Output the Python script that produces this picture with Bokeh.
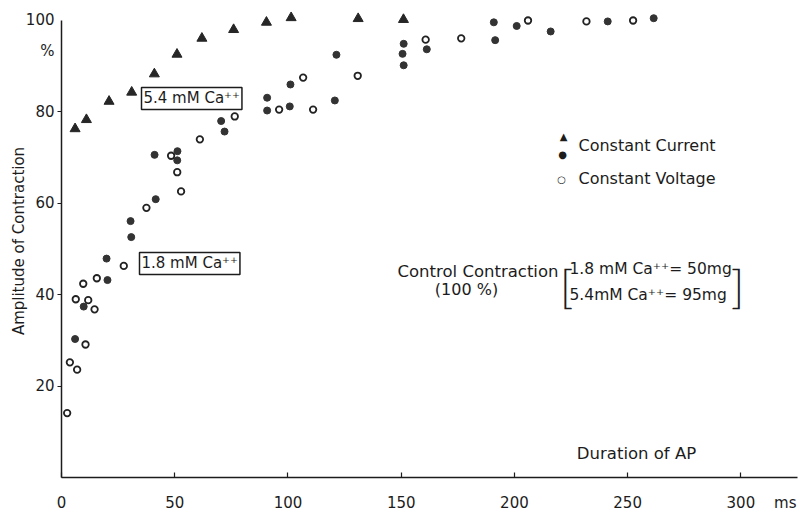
from bokeh.plotting import figure
from bokeh.models import Label, FixedTicker, Range1d, LinearAxis
from bokeh.embed import file_html
from bokeh.resources import INLINE

# ---- data ----
# Constant current, triangles (5.4 mM Ca++)
tri_x = [6, 11, 21, 31, 41, 51, 62, 76, 90.5, 101.4, 131, 151]
tri_y = [76.3, 78.3, 82.3, 84.3, 88.3, 92.6, 96.1, 98.0, 99.6, 100.6, 100.4, 100.2]

# Constant current, filled circles
dot_x = [6.0, 9.8, 19.9, 20.3, 30.5, 30.8, 41.6, 41.1, 51.2, 51.1, 70.5, 72.0,
         90.8, 90.8, 100.8, 101.1, 120.7, 121.4, 151.1, 150.6, 151.1, 161.3,
         190.9, 191.5, 201.0, 216.0, 241.2, 261.5]
dot_y = [30.3, 37.4, 47.9, 43.2, 56.1, 52.6, 60.9, 70.6, 71.4, 69.4, 78.0, 75.7,
         83.1, 80.3, 81.2, 86.0, 82.5, 92.5, 94.9, 92.7, 90.2, 93.7,
         99.6, 95.7, 98.8, 97.6, 99.8, 100.5]

# Constant voltage, open circles
cv_x = [2.5, 3.7, 6.9, 6.3, 9.6, 11.8, 14.6, 10.6, 15.6, 27.5, 37.5, 52.8, 48.4,
        51.1, 61.1, 76.5, 96.1, 106.7, 111.1, 130.8, 160.8, 176.5, 206.0, 231.8, 252.4]
cv_y = [14.1, 25.2, 23.6, 39.0, 42.4, 38.8, 36.8, 29.1, 43.6, 46.3, 59.0, 62.6, 70.4,
        66.8, 74.0, 79.0, 80.5, 87.5, 80.5, 87.9, 95.8, 96.1, 100.0, 99.8, 100.0]

x_ticks = [0, 50, 100, 150, 200, 250, 300]
x_unit_pos = 319.6          # where the "ms" unit label sits on the x scale
y_ticks = [20, 40, 60, 80]
y_top = 100
y_pct_pos = 93.4            # where the "%" sign sits under "100"

INK = "#1c1c1c"
FONT = "DejaVu Sans"

p = figure(width=804, height=517, output_backend="svg", toolbar_location=None,
           x_range=Range1d(0, 325), y_range=Range1d(0, 103.5),
           x_axis_location=None, y_axis_location=None,
           min_border_left=61, min_border_right=7, min_border_top=4, min_border_bottom=40)
p.outline_line_color = None
p.grid.visible = False
p.background_fill_color = "white"
p.border_fill_color = "white"

# x axis: line + inward ticks
xa = LinearAxis(ticker=FixedTicker(ticks=x_ticks), bounds=(0, 325),
                axis_line_color=INK, axis_line_width=1.5,
                major_tick_line_color=INK, major_tick_line_width=1.2,
                major_tick_in=5, major_tick_out=0, minor_tick_line_color=None,
                major_label_text_font_size="0px", major_label_text_alpha=0,
                major_label_standoff=0)
p.add_layout(xa, "below")
# x labels (incl. unit) without line/ticks
xl = LinearAxis(ticker=FixedTicker(ticks=x_ticks + [x_unit_pos]),
                major_label_overrides={x_unit_pos: "ms"},
                axis_line_color=None, major_tick_line_color=None, minor_tick_line_color=None,
                major_tick_in=0, major_tick_out=0, major_label_standoff=16,
                major_label_text_font=FONT, major_label_text_font_size="15px",
                major_label_text_color=INK)
p.add_layout(xl, "below")

# y axis: line + outward ticks
ya = LinearAxis(ticker=FixedTicker(ticks=y_ticks), bounds=(0, 100),
                axis_line_color=INK, axis_line_width=1.5,
                major_tick_line_color=INK, major_tick_line_width=1.2,
                major_tick_in=0, major_tick_out=4, minor_tick_line_color=None,
                major_label_text_font_size="0px", major_label_text_alpha=0,
                major_label_standoff=0)
p.add_layout(ya, "left")
yl = LinearAxis(ticker=FixedTicker(ticks=y_ticks + [y_pct_pos, y_top]),
                major_label_overrides={y_pct_pos: "%", y_top: "100"},
                axis_line_color=None, major_tick_line_color=None, minor_tick_line_color=None,
                major_tick_in=0, major_tick_out=0, major_label_standoff=3,
                major_label_text_font=FONT, major_label_text_font_size="15px",
                major_label_text_color=INK,
                axis_label="Amplitude of Contraction", axis_label_text_font=FONT,
                axis_label_text_font_size="15px", axis_label_text_font_style="normal",
                axis_label_text_color=INK, axis_label_standoff=-5)
p.add_layout(yl, "left")

# ---- markers ----
p.scatter(tri_x, tri_y, marker="triangle", size=10, fill_color="#262626", line_color="#262626")
p.scatter(dot_x, dot_y, marker="circle", size=7, fill_color="#333333", line_color="#333333")
p.scatter(cv_x, cv_y, marker="circle", size=6.5, fill_color="white", line_color="#222222", line_width=1.8)

# ---- text annotations (placed by screen pixel -> data) ----
def X(px):
    return (px - 61) / (736 / 325)

def Y(py):
    return (477 - py) / 4.57

def lab(text, px, py, align="left", base="middle", size="16px", font=FONT, **kw):
    p.add_layout(Label(x=X(px), y=Y(py), text=text, text_align=align, text_baseline=base,
                       text_font=font, text_font_size=size, text_color=INK, **kw))

lab("Duration of AP", 636, 453, align="center", size="16.5px")

lab("5.4 mM Ca\u207a\u207a", 141, 98, size="15px", border_line_color=INK, border_line_width=1.5,
    background_fill_color="white", padding=2)
lab("1.8 mM Ca\u207a\u207a", 139, 263, size="15px", border_line_color=INK, border_line_width=1.5,
    background_fill_color="white", padding=2)

# legend as text symbols
lab("\u25b2", 563, 136, align="center", size="10px")
lab("\u25cf", 562, 154, align="center", size="10px")
lab("\u25cb", 561, 179, align="center", size="10px")
lab("Constant Current", 578, 145)
lab("Constant Voltage", 578, 178)

# control contraction note
lab("Control Contraction", 558, 271, align="right", size="16.5px")
lab("(100 %)", 466, 289, align="center")
lab("[", 566, 285, align="center", size="46px", font="Lato Light")
lab("]", 737, 285, align="center", size="46px", font="Lato Light")
lab("1.8 mM Ca\u207a\u207a= 50mg", 569, 269, size="15.5px")
lab("5.4mM Ca\u207a\u207a= 95mg", 569, 295, size="15.5px")

open("out.html", "w").write(file_html(p, INLINE))
